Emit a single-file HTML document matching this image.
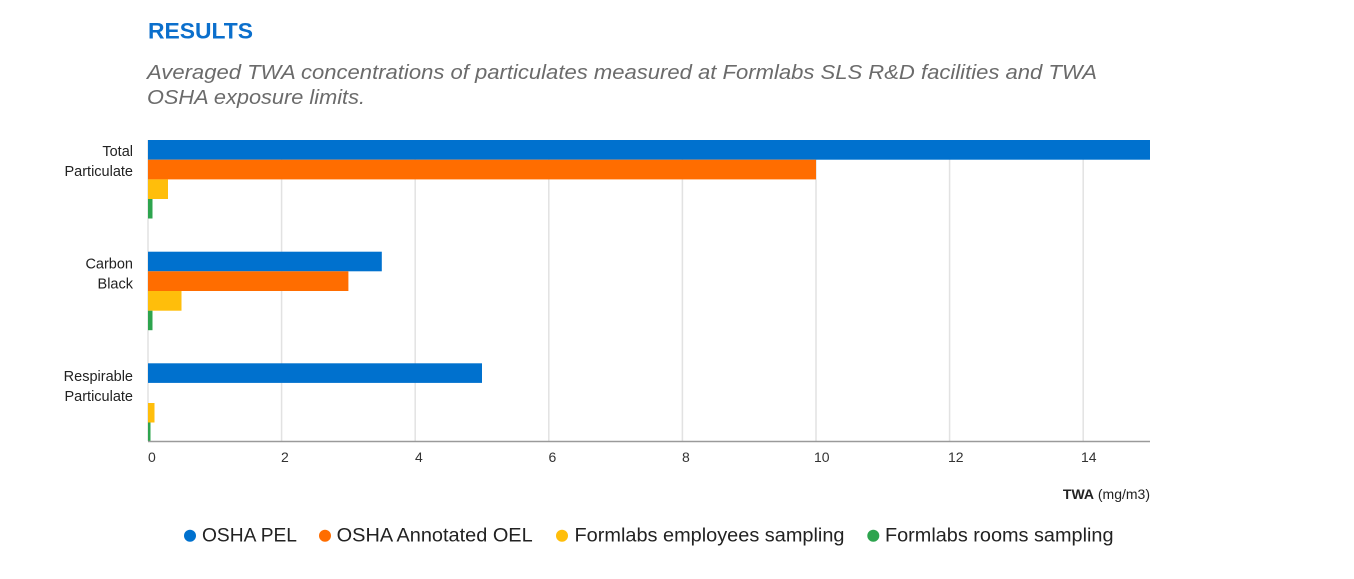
<!DOCTYPE html>
<html>
<head>
<meta charset="utf-8">
<style>
  html, body { margin: 0; padding: 0; background: #ffffff; }
  svg { display: block; }
  text { font-family: "Liberation Sans", Arial, sans-serif; }
</style>
</head>
<body>
<svg width="1354" height="579" viewBox="0 0 1354 579" xmlns="http://www.w3.org/2000/svg">
  <rect width="1354" height="579" fill="#ffffff"/>

  <!-- Title -->
  <text x="148" y="38.3" font-size="22.5" font-weight="bold" fill="#0b6fcc" textLength="105" lengthAdjust="spacingAndGlyphs">RESULTS</text>

  <!-- Subtitle -->
  <text x="147" y="79" font-size="20" font-style="italic" fill="#6b6b6b" textLength="950" lengthAdjust="spacingAndGlyphs">Averaged TWA concentrations of particulates measured at Formlabs SLS R&amp;D facilities and TWA</text>
  <text x="147" y="104" font-size="20" font-style="italic" fill="#6b6b6b" textLength="218" lengthAdjust="spacingAndGlyphs">OSHA exposure limits.</text>

  <!-- Gridlines -->
  <g stroke="#e2e2e2" stroke-width="1.5">
    <line x1="148" y1="140" x2="148" y2="441"/>
    <line x1="281.6" y1="140" x2="281.6" y2="441"/>
    <line x1="415.2" y1="140" x2="415.2" y2="441"/>
    <line x1="548.8" y1="140" x2="548.8" y2="441"/>
    <line x1="682.4" y1="140" x2="682.4" y2="441"/>
    <line x1="816" y1="140" x2="816" y2="441"/>
    <line x1="949.6" y1="140" x2="949.6" y2="441"/>
    <line x1="1083.2" y1="140" x2="1083.2" y2="441"/>
  </g>

  <!-- Bars: Total Particulate -->
  <rect x="148" y="140" width="1002" height="19.7" fill="#0071ce"/>
  <rect x="148" y="159.7" width="668" height="19.7" fill="#ff6d00"/>
  <rect x="148" y="179.4" width="20" height="19.6" fill="#ffbe0b"/>
  <rect x="148" y="199" width="4.5" height="19.5" fill="#2da44e"/>

  <!-- Bars: Carbon Black -->
  <rect x="148" y="251.7" width="233.8" height="19.6" fill="#0071ce"/>
  <rect x="148" y="271.3" width="200.4" height="19.7" fill="#ff6d00"/>
  <rect x="148" y="291" width="33.5" height="19.7" fill="#ffbe0b"/>
  <rect x="148" y="310.7" width="4.5" height="19.5" fill="#2da44e"/>

  <!-- Bars: Respirable Particulate -->
  <rect x="148" y="363.3" width="334" height="19.6" fill="#0071ce"/>
  <rect x="148" y="403" width="6.5" height="19.5" fill="#ffbe0b"/>
  <rect x="148" y="422.5" width="2.5" height="19" fill="#2da44e"/>

  <!-- Axis line -->
  <line x1="148" y1="441.5" x2="1150" y2="441.5" stroke="#9a9a9a" stroke-width="1.5"/>

  <!-- Tick labels -->
  <g font-size="14" fill="#333333">
    <text x="148" y="462">0</text>
    <text x="281" y="462">2</text>
    <text x="415" y="462">4</text>
    <text x="548.5" y="462">6</text>
    <text x="682" y="462">8</text>
    <text x="814" y="462">10</text>
    <text x="948" y="462">12</text>
    <text x="1081" y="462">14</text>
  </g>

  <!-- Category labels -->
  <g font-size="14.5" fill="#222222" text-anchor="end">
    <text x="133" y="156">Total</text>
    <text x="133" y="176">Particulate</text>
    <text x="133" y="268.3">Carbon</text>
    <text x="133" y="288.3">Black</text>
    <text x="133" y="381">Respirable</text>
    <text x="133" y="401">Particulate</text>
  </g>

  <!-- Axis title -->
  <text x="1150" y="499" font-size="14" fill="#222222" text-anchor="end"><tspan font-weight="bold">TWA</tspan> (mg/m3)</text>

  <!-- Legend -->
  <circle cx="190" cy="535.7" r="6" fill="#0071ce"/>
  <text x="202" y="541.7" font-size="19" fill="#222222" textLength="95" lengthAdjust="spacingAndGlyphs">OSHA PEL</text>

  <circle cx="325" cy="535.7" r="6" fill="#ff6d00"/>
  <text x="336.7" y="541.7" font-size="19" fill="#222222" textLength="196" lengthAdjust="spacingAndGlyphs">OSHA Annotated OEL</text>

  <circle cx="562" cy="535.7" r="6" fill="#ffbe0b"/>
  <text x="574.5" y="541.7" font-size="19" fill="#222222" textLength="270" lengthAdjust="spacingAndGlyphs">Formlabs employees sampling</text>

  <circle cx="873.3" cy="535.7" r="6" fill="#2da44e"/>
  <text x="885" y="541.7" font-size="19" fill="#222222" textLength="228.5" lengthAdjust="spacingAndGlyphs">Formlabs rooms sampling</text>
</svg>
</body>
</html>
